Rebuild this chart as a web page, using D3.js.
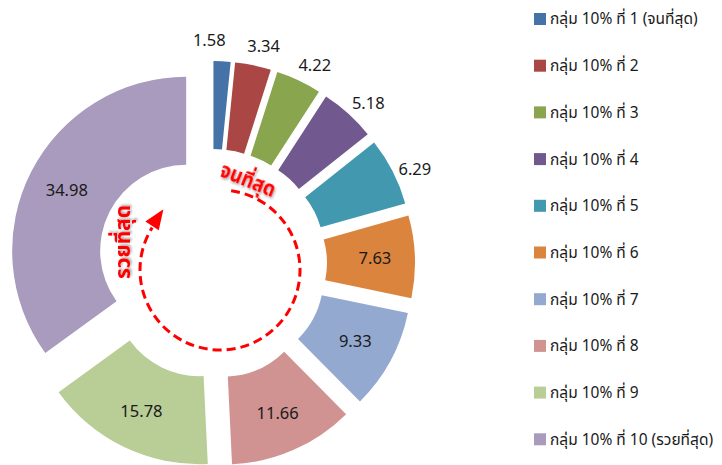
<!DOCTYPE html>
<html lang="th">
<head>
<meta charset="utf-8">
<title>Income decile share</title>
<script src="https://cdn.jsdelivr.net/npm/d3@7"></script>
<style>
  body { margin: 0; background: #fff; }
  svg { display: block; }
  .label { font-family: Tahoma, "Noto Sans Thai", "Leelawadee UI", "Noto Sans", sans-serif; font-size: 16.5px; fill: #1a1a1a; }
  .legend text { font-family: Tahoma, "Noto Sans Thai", "Leelawadee UI", "Noto Sans", sans-serif; font-size: 15.5px; fill: #1a1a1a; }
  .note { font-family: Tahoma, "Noto Sans Thai", "Leelawadee UI", "Noto Sans", sans-serif; font-size: 21px; font-weight: bold; fill: #ff0000; }
</style>
</head>
<body>
<div id="chart"></div>
<script>
// share of income by decile group (%)
const groups = ["กลุ่ม 10% ที่ 1 (จนที่สุด)", "กลุ่ม 10% ที่ 2", "กลุ่ม 10% ที่ 3", "กลุ่ม 10% ที่ 4",
                "กลุ่ม 10% ที่ 5", "กลุ่ม 10% ที่ 6", "กลุ่ม 10% ที่ 7", "กลุ่ม 10% ที่ 8",
                "กลุ่ม 10% ที่ 9", "กลุ่ม 10% ที่ 10 (รวยที่สุด)"];
const shares = [1.58, 3.34, 4.22, 5.18, 6.29, 7.63, 9.33, 11.66, 15.78, 34.98];
const colors = ["#4572A7", "#AA4643", "#89A54E", "#71588F", "#4198AF",
                "#DB843D", "#93A9CF", "#D19392", "#B9CD96", "#A99BBD"];
const poorLabel = "จนที่สุด";
const richLabel = "รวยที่สุด";

const width = 722, height = 465;
const cx = 212, cy = 264;
const rInner = 86, rOuter = 174, explode = 29;

const svg = d3.select("#chart").append("svg")
  .attr("width", width)
  .attr("height", height);

// soft shadow for the red notes
const defs = svg.append("defs");
const f = defs.append("filter").attr("id", "shadow")
  .attr("x", "-20%").attr("y", "-20%").attr("width", "140%").attr("height", "140%");
f.append("feDropShadow").attr("dx", 1.5).attr("dy", 1.5).attr("stdDeviation", 1.2)
  .attr("flood-color", "#000").attr("flood-opacity", 0.35);

const pie = d3.pie().sort(null).value(d => d);
const arcs = pie(shares);
const arc = d3.arc().innerRadius(rInner).outerRadius(rOuter);

const g = svg.append("g").attr("transform", `translate(${cx},${cy})`);

const mid = d => (d.startAngle + d.endAngle) / 2;
const polar = (a, r) => [Math.sin(a) * r, -Math.cos(a) * r];

// slices, each pulled out along its middle angle
g.selectAll("path.slice")
  .data(arcs)
  .join("path")
  .attr("class", "slice")
  .attr("fill", (d, i) => colors[i])
  .attr("transform", d => {
    const [dx, dy] = polar(mid(d), explode);
    return `translate(${dx},${dy})`;
  })
  .attr("d", arc);

// labels: small slices outside, the rest inside
const small = 7;
const outside = arcs.filter(d => d.data < small);
const deg = Math.PI / 180;
const outAngle = outside.map(d => mid(d) + 2 * deg);
for (let i = outAngle.length - 2; i >= 0; i--) {
  outAngle[i] = Math.min(outAngle[i], outAngle[i + 1] - 14 * deg);
}

g.selectAll("text.label")
  .data(arcs)
  .join("text")
  .attr("class", "label")
  .attr("text-anchor", "middle")
  .attr("dy", "0.35em")
  .attr("transform", d => {
    let x, y;
    if (d.data < small) {
      [x, y] = polar(outAngle[outside.indexOf(d)], rOuter + explode + 21);
    } else {
      const [ox, oy] = polar(mid(d), explode);
      const [px, py] = polar(mid(d), 134);
      x = ox + px; y = oy + py;
    }
    return `translate(${x},${y})`;
  })
  .text(d => d.data.toFixed(2));

// dashed arrow running from poorest round to richest
const ring = g.append("g").attr("transform", "translate(8,6)");
const ringR = 80;
const a0 = 8 * deg, a1 = 302 * deg;
const p = d3.path();
const [sx, sy] = polar(a0, ringR);
p.moveTo(sx, sy);
p.arc(0, 0, ringR, a0 - Math.PI / 2, a1 - Math.PI / 2, false);
ring.append("path")
  .attr("d", p.toString())
  .attr("fill", "none")
  .attr("stroke", "#ff0000")
  .attr("stroke-width", 3)
  .attr("stroke-dasharray", "9,5");

const baseA = 303 * deg, tipA = 317 * deg;
const [bx, by] = polar(baseA, ringR + 1);
const [tx, ty] = polar(tipA, ringR + 3);
const nx = Math.sin(baseA), ny = -Math.cos(baseA);
const half = 8;
ring.append("path")
  .attr("d", `M${tx},${ty}L${bx + nx * half},${by + ny * half}L${bx - nx * half},${by - ny * half}Z`)
  .attr("fill", "#ff0000");

svg.append("text")
  .attr("class", "note")
  .attr("filter", "url(#shadow)")
  .attr("text-anchor", "middle")
  .attr("textLength", 58)
  .attr("lengthAdjust", "spacingAndGlyphs")
  .attr("transform", `translate(${cx + 36},${cy - 84}) rotate(22)`)
  .attr("dy", "0.35em")
  .text(poorLabel);

svg.append("text")
  .attr("class", "note")
  .attr("filter", "url(#shadow)")
  .attr("text-anchor", "middle")
  .attr("textLength", 74)
  .attr("lengthAdjust", "spacingAndGlyphs")
  .attr("transform", `translate(${cx - 89},${cy - 22}) rotate(-90)`)
  .attr("dy", "0.35em")
  .text(richLabel);

// legend
const legend = svg.append("g").attr("class", "legend")
  .attr("transform", "translate(534,19)");
const row = legend.selectAll("g")
  .data(groups)
  .join("g")
  .attr("transform", (d, i) => `translate(0,${i * 46.7})`);
row.append("rect")
  .attr("x", 0).attr("y", -6)
  .attr("width", 12).attr("height", 12)
  .attr("fill", (d, i) => colors[i]);
row.append("text")
  .attr("x", 16)
  .attr("dy", "0.35em")
  .text(d => d);
</script>
</body>
</html>
